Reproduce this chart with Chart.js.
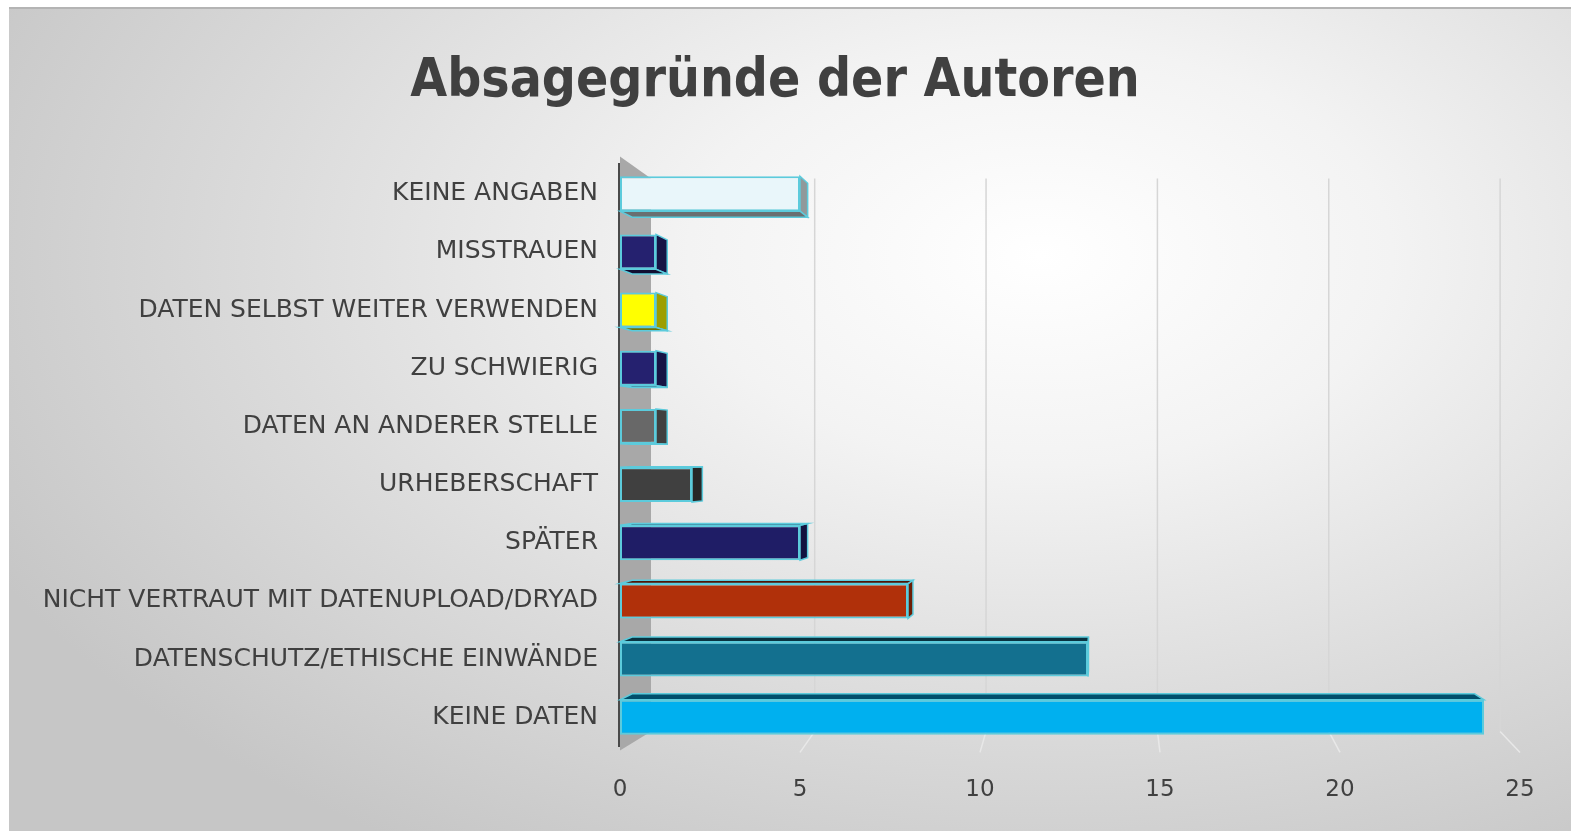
<!DOCTYPE html>
<html>
<head>
<meta charset="utf-8">
<script src="https://cdn.jsdelivr.net/npm/chart.js@4"></script>
<style>
  html, body { margin: 0; padding: 0; background: #fff; }
  #box {
    position: absolute; left: 9px; top: 7px; width: 1562px; height: 824px;
    border-top: 2px solid #b4b4b4; box-sizing: border-box;
    background: radial-gradient(ellipse 75% 85% at 66% 30%, #ffffff 0%, #f3f3f3 30%, #dcdcdc 65%, #c6c6c6 100%);
  }
  #wrap { position: absolute; left: 0; top: 0; width: 1571px; height: 831px; }
</style>
</head>
<body>
<div id="box"></div>
<div id="wrap"><canvas id="chart" width="1571" height="831"></canvas></div>
<script>
// Data
const categories = [
  'KEINE ANGABEN',
  'MISSTRAUEN',
  'DATEN SELBST WEITER VERWENDEN',
  'ZU SCHWIERIG',
  'DATEN AN ANDERER STELLE',
  'URHEBERSCHAFT',
  'SPÄTER',
  'NICHT VERTRAUT MIT DATENUPLOAD/DRYAD',
  'DATENSCHUTZ/ETHISCHE EINWÄNDE',
  'KEINE DATEN'
];
const values = [5, 1, 1, 1, 1, 2, 5, 8, 13, 24];
const xTicks = [0, 5, 10, 15, 20, 25];

const barColors = [
  '#e9f6fa', '#25216f', '#ffff00', '#25216f', '#686868',
  '#404040', '#1f1d66', '#b0300a', '#13708f', '#00b0ef'
];
const edge = '#5ccbdc';
const textColor = '#404040';

function shade(hex, f) {
  let n = parseInt(hex.slice(1), 16);
  let r = Math.round(((n >> 16) & 255) * f);
  let g = Math.round(((n >> 8) & 255) * f);
  let b = Math.round((n & 255) * f);
  return 'rgb(' + r + ',' + g + ',' + b + ')';
}

// fake 3D: back wall grid, left wall and side faces of the bars
const depthPlugin = {
  id: 'depth',
  beforeDatasetsDraw(chart) {
    const ctx = chart.ctx;
    const a = chart.chartArea;
    const xs = chart.scales.x;
    const vx = a.left + (a.right - a.left) * 0.54;
    const vy = a.top + (a.bottom - a.top) * 0.5;
    const k = 0.025;
    // back wall sits a bit deeper than the bars
    const wall = x => x + 0.048 * (vx - x);
    const wallTop = a.top + 14;
    const wallBottom = a.bottom - 15;

    ctx.save();
    // grid on the back wall, with floor lines coming forward
    ctx.lineWidth = 1.5;
    xTicks.forEach(v => {
      if (v === 0) return;
      const x = xs.getPixelForValue(v);
      ctx.strokeStyle = '#d6d6d6';
      ctx.beginPath();
      ctx.moveTo(wall(x), wallTop);
      ctx.lineTo(wall(x), wallBottom);
      ctx.stroke();
      ctx.strokeStyle = '#e8e8e8';
      ctx.beginPath();
      ctx.moveTo(wall(x), wallBottom);
      ctx.lineTo(x, a.bottom + 6);
      ctx.stroke();
    });

    // wall behind the axis
    const x0 = xs.getPixelForValue(0);
    ctx.fillStyle = '#a8a8a8';
    ctx.beginPath();
    ctx.moveTo(x0, a.top - 8);
    ctx.lineTo(x0 + 31, wallTop);
    ctx.lineTo(x0 + 31, wallBottom);
    ctx.lineTo(x0, a.bottom + 4);
    ctx.closePath();
    ctx.fill();

    const meta = chart.getDatasetMeta(0);
    meta.data.forEach((bar, i) => {
      const p = bar.getProps(['x', 'y', 'base', 'height'], true);
      const x0 = p.base, x1 = p.x;
      const y0 = p.y - p.height / 2, y1 = p.y + p.height / 2;
      const bx = x => x + k * (vx - x);
      const by = y => y + k * (vy - y);
      const side = shade(barColors[i], 0.62);
      const flat = shade(barColors[i], 0.45);
      ctx.strokeStyle = edge;
      ctx.lineWidth = 1.5;

      if (bx(x1) > x1) {
        ctx.fillStyle = side;
        ctx.beginPath();
        ctx.moveTo(x1, y0);
        ctx.lineTo(bx(x1), by(y0));
        ctx.lineTo(bx(x1), by(y1));
        ctx.lineTo(x1, y1);
        ctx.closePath();
        ctx.fill();
        ctx.stroke();
      }
      if (by(y1) > y1) {
        ctx.fillStyle = flat;
        ctx.beginPath();
        ctx.moveTo(x0, y1);
        ctx.lineTo(x1, y1);
        ctx.lineTo(bx(x1), by(y1));
        ctx.lineTo(bx(x0), by(y1));
        ctx.closePath();
        ctx.fill();
        ctx.stroke();
      }
      if (by(y0) < y0) {
        ctx.fillStyle = flat;
        ctx.beginPath();
        ctx.moveTo(x0, y0);
        ctx.lineTo(x1, y0);
        ctx.lineTo(bx(x1), by(y0));
        ctx.lineTo(bx(x0), by(y0));
        ctx.closePath();
        ctx.fill();
        ctx.stroke();
      }
    });
    ctx.restore();
  }
};

const data = {
  labels: categories,
  datasets: [{
    data: values,
    backgroundColor: barColors,
    borderColor: edge,
    borderWidth: 2,
    borderSkipped: false,
    categoryPercentage: 1,
    barPercentage: 0.6,
  }]
};

const options = {
  indexAxis: 'y',
  responsive: false,
  animation: false,
  layout: {
    padding: { left: 30, right: 51, top: 0, bottom: -3 }
  },
  plugins: {
    legend: { display: false },
    tooltip: { enabled: false },
    title: {
      display: true,
      text: 'Absagegründe der Autoren',
      color: textColor,
      font: { family: 'DejaVu Sans Condensed', size: 53, weight: 'bold' },
      padding: { top: 50, bottom: 51 }
    }
  },
  scales: {
    x: {
      min: 0,
      max: 25,
      afterBuildTicks: scale => { scale.ticks = xTicks.map(v => ({ value: v })); },
      grid: { display: false, drawTicks: false },
      border: { display: false },
      ticks: {
        color: textColor,
        padding: 30,
        font: { family: 'DejaVu Sans', size: 23 }
      }
    },
    y: {
      afterFit: scale => { scale.width = 590; },
      grid: { display: false, drawTicks: false },
      border: { display: true, color: '#4a4a4a', width: 4 },
      ticks: {
        color: textColor,
        padding: 22,
        font: { family: 'DejaVu Sans', size: 25 }
      }
    }
  }
};

new Chart(document.getElementById('chart'), {
  type: 'bar',
  data: data,
  options: options,
  plugins: [depthPlugin]
});
</script>
</body>
</html>
